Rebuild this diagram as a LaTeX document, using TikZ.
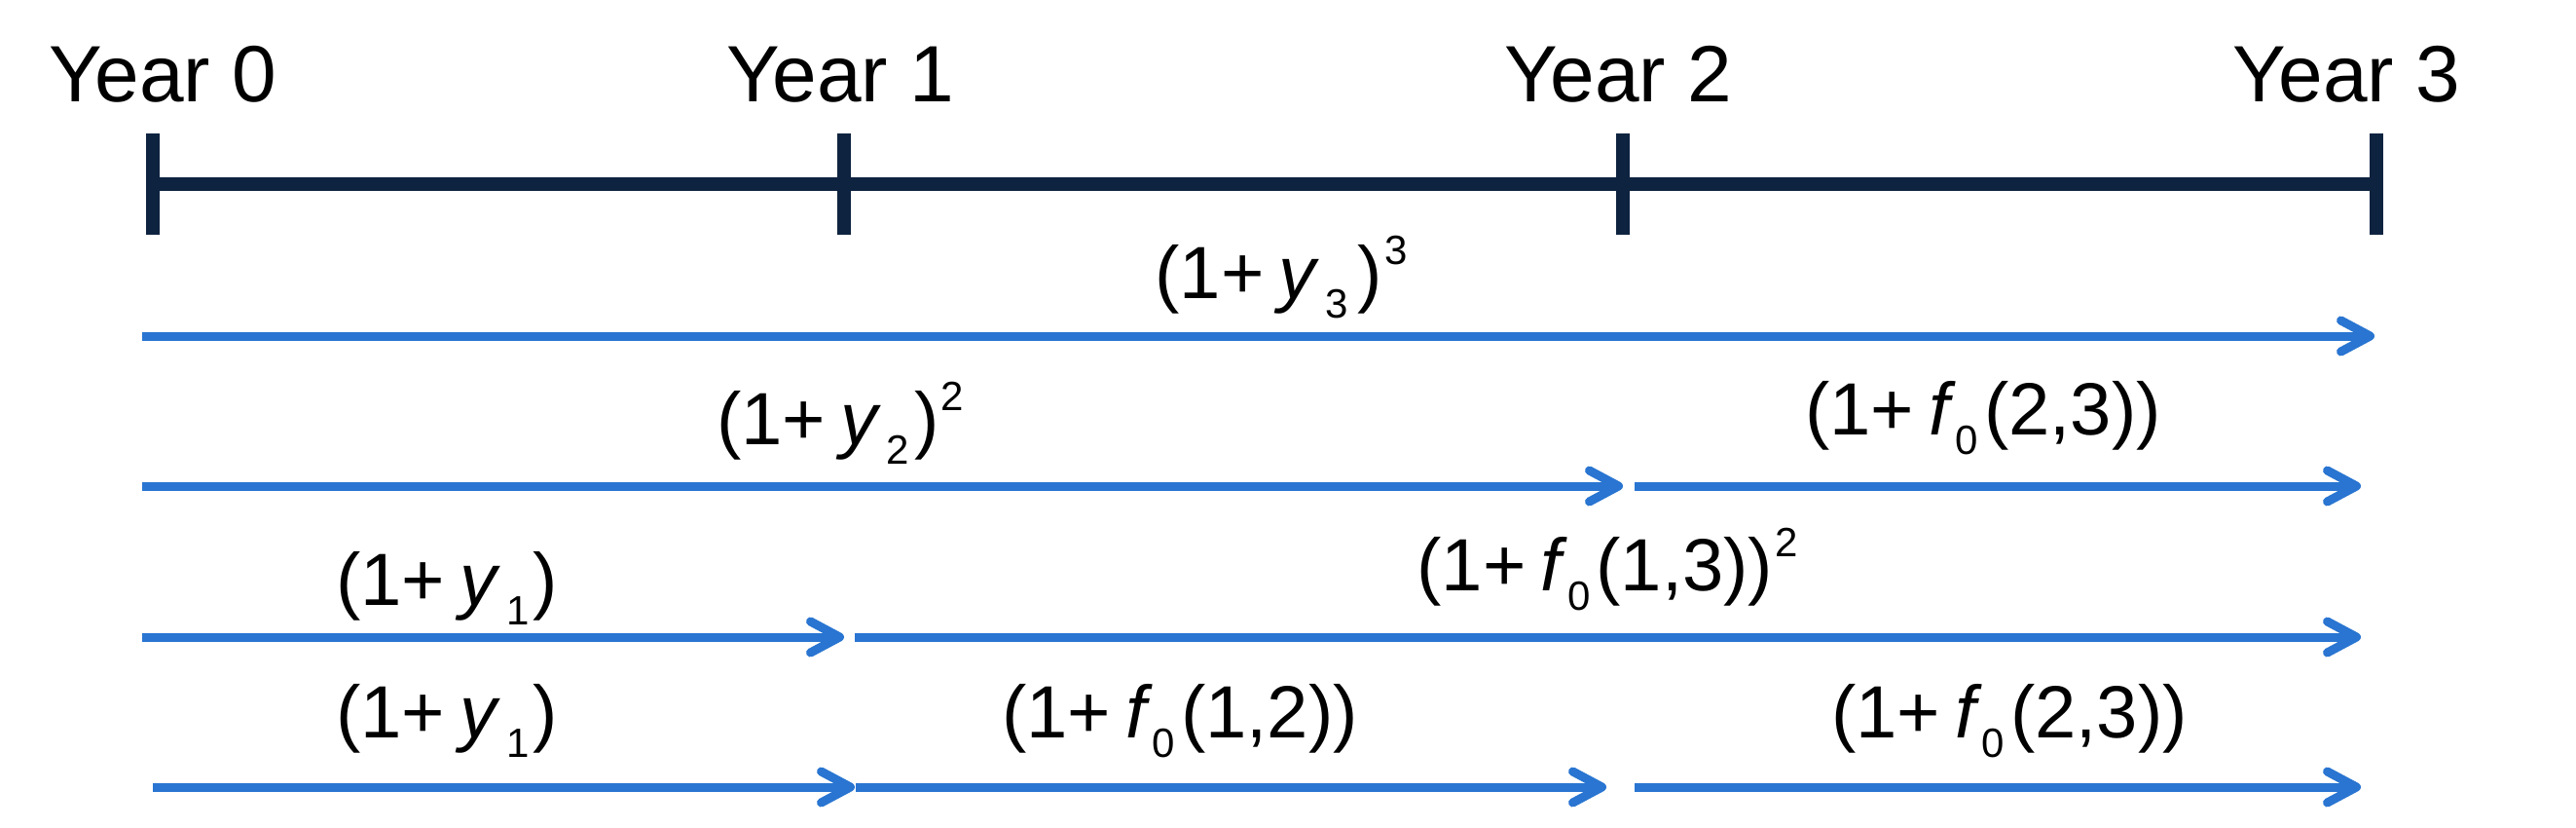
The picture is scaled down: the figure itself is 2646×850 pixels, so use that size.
\documentclass[tikz,border=0pt]{standalone}
\usepackage{fontspec}
\setmainfont{Liberation Sans}
\usetikzlibrary{arrows.meta}
\definecolor{navy}{RGB}{14,35,64}
\definecolor{flowblue}{RGB}{41,117,209}
\newcommand\sbs[1]{\raisebox{-20pt}{\fontsize{42}{42}\selectfont #1}}
\newcommand\sps[1]{\raisebox{35pt}{\fontsize{42}{42}\selectfont #1}}
\newcommand\pls{+\hspace{15pt}}
\begin{document}
\begin{tikzpicture}[x=1pt,y=-1pt,
  yearlab/.style={anchor=base west, inner sep=0pt, font=\fontsize{82}{90}\selectfont},
  ratelab/.style={anchor=base, inner sep=0pt, font=\fontsize{76}{80}\selectfont},
  axisline/.style={draw=navy, line width=14pt},
  tickmark/.style={draw=navy, line width=14pt},
  flow/.style={draw=flowblue, line width=9pt, -{Straight Barb[length=30pt,width=32pt,round]}}]
\fill[white] (0,0) rectangle (2646,850);
\useasboundingbox (0,0) rectangle (2646,850);
% timeline
\foreach \i/\x in {0/157,1/867,2/1667,3/2441}{
  \coordinate (t\i) at (\x,189);
  \coordinate (t\i top) at (\x,137);
  \coordinate (t\i bot) at (\x,241);
}
\draw[axisline] (t0) -- (t3);
\foreach \i in {0,1,2,3}{ \draw[tickmark] (t\i top) -- (t\i bot); }
\node[yearlab] (yr0) at (50,105) {Year 0};
\node[yearlab] (yr1) at (746,105) {Year 1};
\node[yearlab] (yr2) at (1545,105) {Year 2};
\node[yearlab] (yr3) at (2293,105) {Year 3};
% row 1
\coordinate (r1a) at (146,345);
\coordinate (r1b) at (2439,345);
\draw[flow] (r1a) -- (r1b);
\node[ratelab] (l1) at (1316,306) {(1\pls\textit{y}\hspace{6pt}\sbs{3}\hspace{10pt})\hspace{2pt}\sps{3}};
% row 2
\coordinate (r2a) at (146,499);
\coordinate (r2b) at (1667,499);
\coordinate (r2c) at (1679,499);
\coordinate (r2d) at (2425,499);
\draw[flow] (r2a) -- (r2b);
\draw[flow] (r2c) -- (r2d);
\node[ratelab] (l2a) at (863,456) {(1\pls\textit{y}\hspace{6pt}\sbs{2}\hspace{5pt})\hspace{2pt}\sps{2}};
\node[ratelab] (l2b) at (2037,446) {(1\pls\textit{f}\sbs{0}\hspace{6pt}(2,3))};
% row 3
\coordinate (r3a) at (146,654);
\coordinate (r3b) at (867,654);
\coordinate (r3c) at (878,654);
\coordinate (r3d) at (2425,654);
\draw[flow] (r3a) -- (r3b);
\draw[flow] (r3c) -- (r3d);
\node[ratelab] (l3a) at (459,621) {(1\pls\textit{y}\hspace{6pt}\sbs{1}\hspace{4pt})};
\node[ratelab] (l3b) at (1651,606) {(1\pls\textit{f}\sbs{0}\hspace{6pt}(1,3))\hspace{2pt}\sps{2}};
% row 4
\coordinate (r4a) at (157,808);
\coordinate (r4b) at (878,808);
\coordinate (r4c) at (879,808);
\coordinate (r4d) at (1650,808);
\coordinate (r4e) at (1679,808);
\coordinate (r4f) at (2425,808);
\draw[flow] (r4a) -- (r4b);
\draw[flow] (r4c) -- (r4d);
\draw[flow] (r4e) -- (r4f);
\node[ratelab] (l4a) at (459,757) {(1\pls\textit{y}\hspace{6pt}\sbs{1}\hspace{4pt})};
\node[ratelab] (l4b) at (1212,757) {(1\pls\textit{f}\sbs{0}\hspace{6pt}(1,2))};
\node[ratelab] (l4c) at (2064,757) {(1\pls\textit{f}\sbs{0}\hspace{6pt}(2,3))};
\end{tikzpicture}
\end{document}
